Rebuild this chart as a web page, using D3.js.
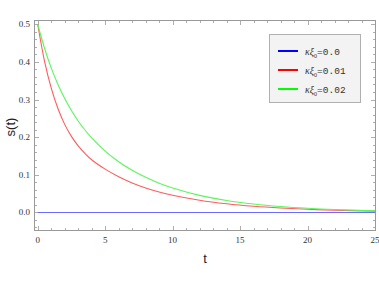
<!DOCTYPE html>
<html>
<head>
<meta charset="utf-8">
<script src="https://cdn.jsdelivr.net/npm/d3@7"></script>
<style>
  body { margin: 0; background: #fff; }
  text { font-family: "Liberation Serif", "Times New Roman", serif; }
</style>
</head>
<body>
<svg id="chart" width="379" height="285"></svg>
<script>
var tValues = [0, 0.5, 1, 1.5, 2, 2.5, 3, 3.5, 4, 5, 6, 7, 8, 9, 10, 12, 14, 16, 18, 20, 22, 25];
var sRed = [0.5, 0.403, 0.331, 0.276, 0.234, 0.202, 0.177, 0.157, 0.14, 0.115, 0.095, 0.0785, 0.0652, 0.0545, 0.0458, 0.0325, 0.0231, 0.0164, 0.0117, 0.0083, 0.0059, 0.0036];
var sGreen = [0.5, 0.437, 0.384, 0.34, 0.303, 0.271, 0.243, 0.219, 0.198, 0.163, 0.1347, 0.1119, 0.0932, 0.0777, 0.065, 0.0454, 0.0319, 0.0224, 0.0157, 0.011, 0.0077, 0.0045];
var sBlue = tValues.map(function () { return 0; });

var legendValues = ["0.0", "0.01", "0.02"];
var xTicks = [0, 5, 10, 15, 20, 25];
var yTicks = [0, 0.1, 0.2, 0.3, 0.4, 0.5];

var series = [
  { name: legendValues[0], values: sBlue, line: "#6b6bff", key: "#0000ff" },
  { name: legendValues[1], values: sRed, line: "#ff5c5c", key: "#ff0000" },
  { name: legendValues[2], values: sGreen, line: "#5cf55c", key: "#00ff00" },
];

var svg = d3.select("#chart");
var padL = 35, padR = 375, padT = 20.5, padB = 230.5;

var x = d3.scaleLinear().domain([-0.2, 25]).range([padL, padR]);
var y = d3.scaleLinear().domain([-0.048, 0.51]).range([padB, padT]);

// frame
svg.append("rect")
  .attr("x", padL - 0.5).attr("y", padT)
  .attr("width", padR - padL + 1).attr("height", padB - padT)
  .attr("fill", "none").attr("stroke", "#999").attr("stroke-width", 1);

// ticks, inward on all four sides
var xMinor = d3.range(0, 26, 1);
var yMinor = d3.range(-0.04, 0.51, 0.02);
var ticks = svg.append("g").attr("stroke", "#999").attr("stroke-width", 0.8);
xMinor.forEach(function (t) {
  var len = t % 5 === 0 ? 4.5 : 2.5;
  var px = Math.round(x(t)) + 0.5;
  ticks.append("line").attr("x1", px).attr("x2", px).attr("y1", padB).attr("y2", padB - len);
  ticks.append("line").attr("x1", px).attr("x2", px).attr("y1", padT).attr("y2", padT + len);
});
yMinor.forEach(function (v) {
  var major = Math.abs(Math.round(v * 10) - v * 10) < 1e-6;
  var len = major ? 4.5 : 2.5;
  var py = Math.round(y(v)) + 0.5;
  ticks.append("line").attr("y1", py).attr("y2", py).attr("x1", padL - 0.5).attr("x2", padL - 0.5 + len);
  ticks.append("line").attr("y1", py).attr("y2", py).attr("x1", padR + 0.5).attr("x2", padR + 0.5 - len);
});

// tick labels
svg.append("g").selectAll("text").data(xTicks).enter().append("text")
  .attr("x", function (d) { return x(d); })
  .attr("y", 242.5)
  .attr("text-anchor", "middle")
  .attr("font-size", 9)
  .attr("fill", "#333")
  .text(function (d) { return d; });

svg.append("g").selectAll("text").data(yTicks).enter().append("text")
  .attr("x", 30)
  .attr("y", function (d) { return y(d) + 3; })
  .attr("text-anchor", "end")
  .attr("font-size", 9)
  .attr("fill", "#333")
  .text(function (d) { return d.toFixed(1); });

// axis labels
svg.append("text")
  .attr("transform", "translate(15,127) rotate(-90)")
  .attr("text-anchor", "middle")
  .style("font-family", "'Liberation Sans', Arial, sans-serif")
  .attr("font-size", 13)
  .attr("fill", "#222")
  .text("s(t)");

svg.append("text")
  .attr("x", 205).attr("y", 263)
  .attr("text-anchor", "middle")
  .style("font-family", "'Liberation Sans', Arial, sans-serif")
  .attr("font-size", 13)
  .attr("fill", "#222")
  .text("t");

// curves
var line = d3.line()
  .x(function (d, i) { return x(tValues[i]); })
  .y(function (d) { return y(d); })
  .curve(d3.curveCatmullRom.alpha(0.5));

svg.append("g").selectAll("path").data(series).enter().append("path")
  .attr("d", function (d) { return line(d.values); })
  .attr("fill", "none")
  .attr("stroke", function (d) { return d.line; })
  .attr("stroke-width", 1.1);

// legend
var lg = svg.append("g");
lg.append("rect")
  .attr("x", 269.5).attr("y", 34.5).attr("width", 91).attr("height", 68)
  .attr("fill", "#f3f3f3").attr("stroke", "#b0b0b0").attr("stroke-width", 1);

var rows = lg.selectAll("g.row").data(series).enter().append("g")
  .attr("class", "row")
  .attr("transform", function (d, i) { return "translate(0," + (51 + i * 19) + ")"; });

rows.append("line")
  .attr("x1", 278).attr("x2", 298).attr("y1", 0).attr("y2", 0)
  .attr("stroke", function (d) { return d.key; })
  .attr("stroke-width", 2);

var label = rows.append("text").attr("x", 305).attr("y", 3.5).attr("font-size", 10).attr("fill", "#333");
label.append("tspan").attr("font-style", "italic").text("κξ");
label.append("tspan").attr("font-size", 6).attr("dy", 3).text("0");
label.append("tspan").attr("dy", -3)
  .style("font-family", "'Liberation Mono', 'DejaVu Sans Mono', monospace")
  .attr("font-size", 9.5)
  .text(function (d) { return "=" + d.name; });
</script>
</body>
</html>
